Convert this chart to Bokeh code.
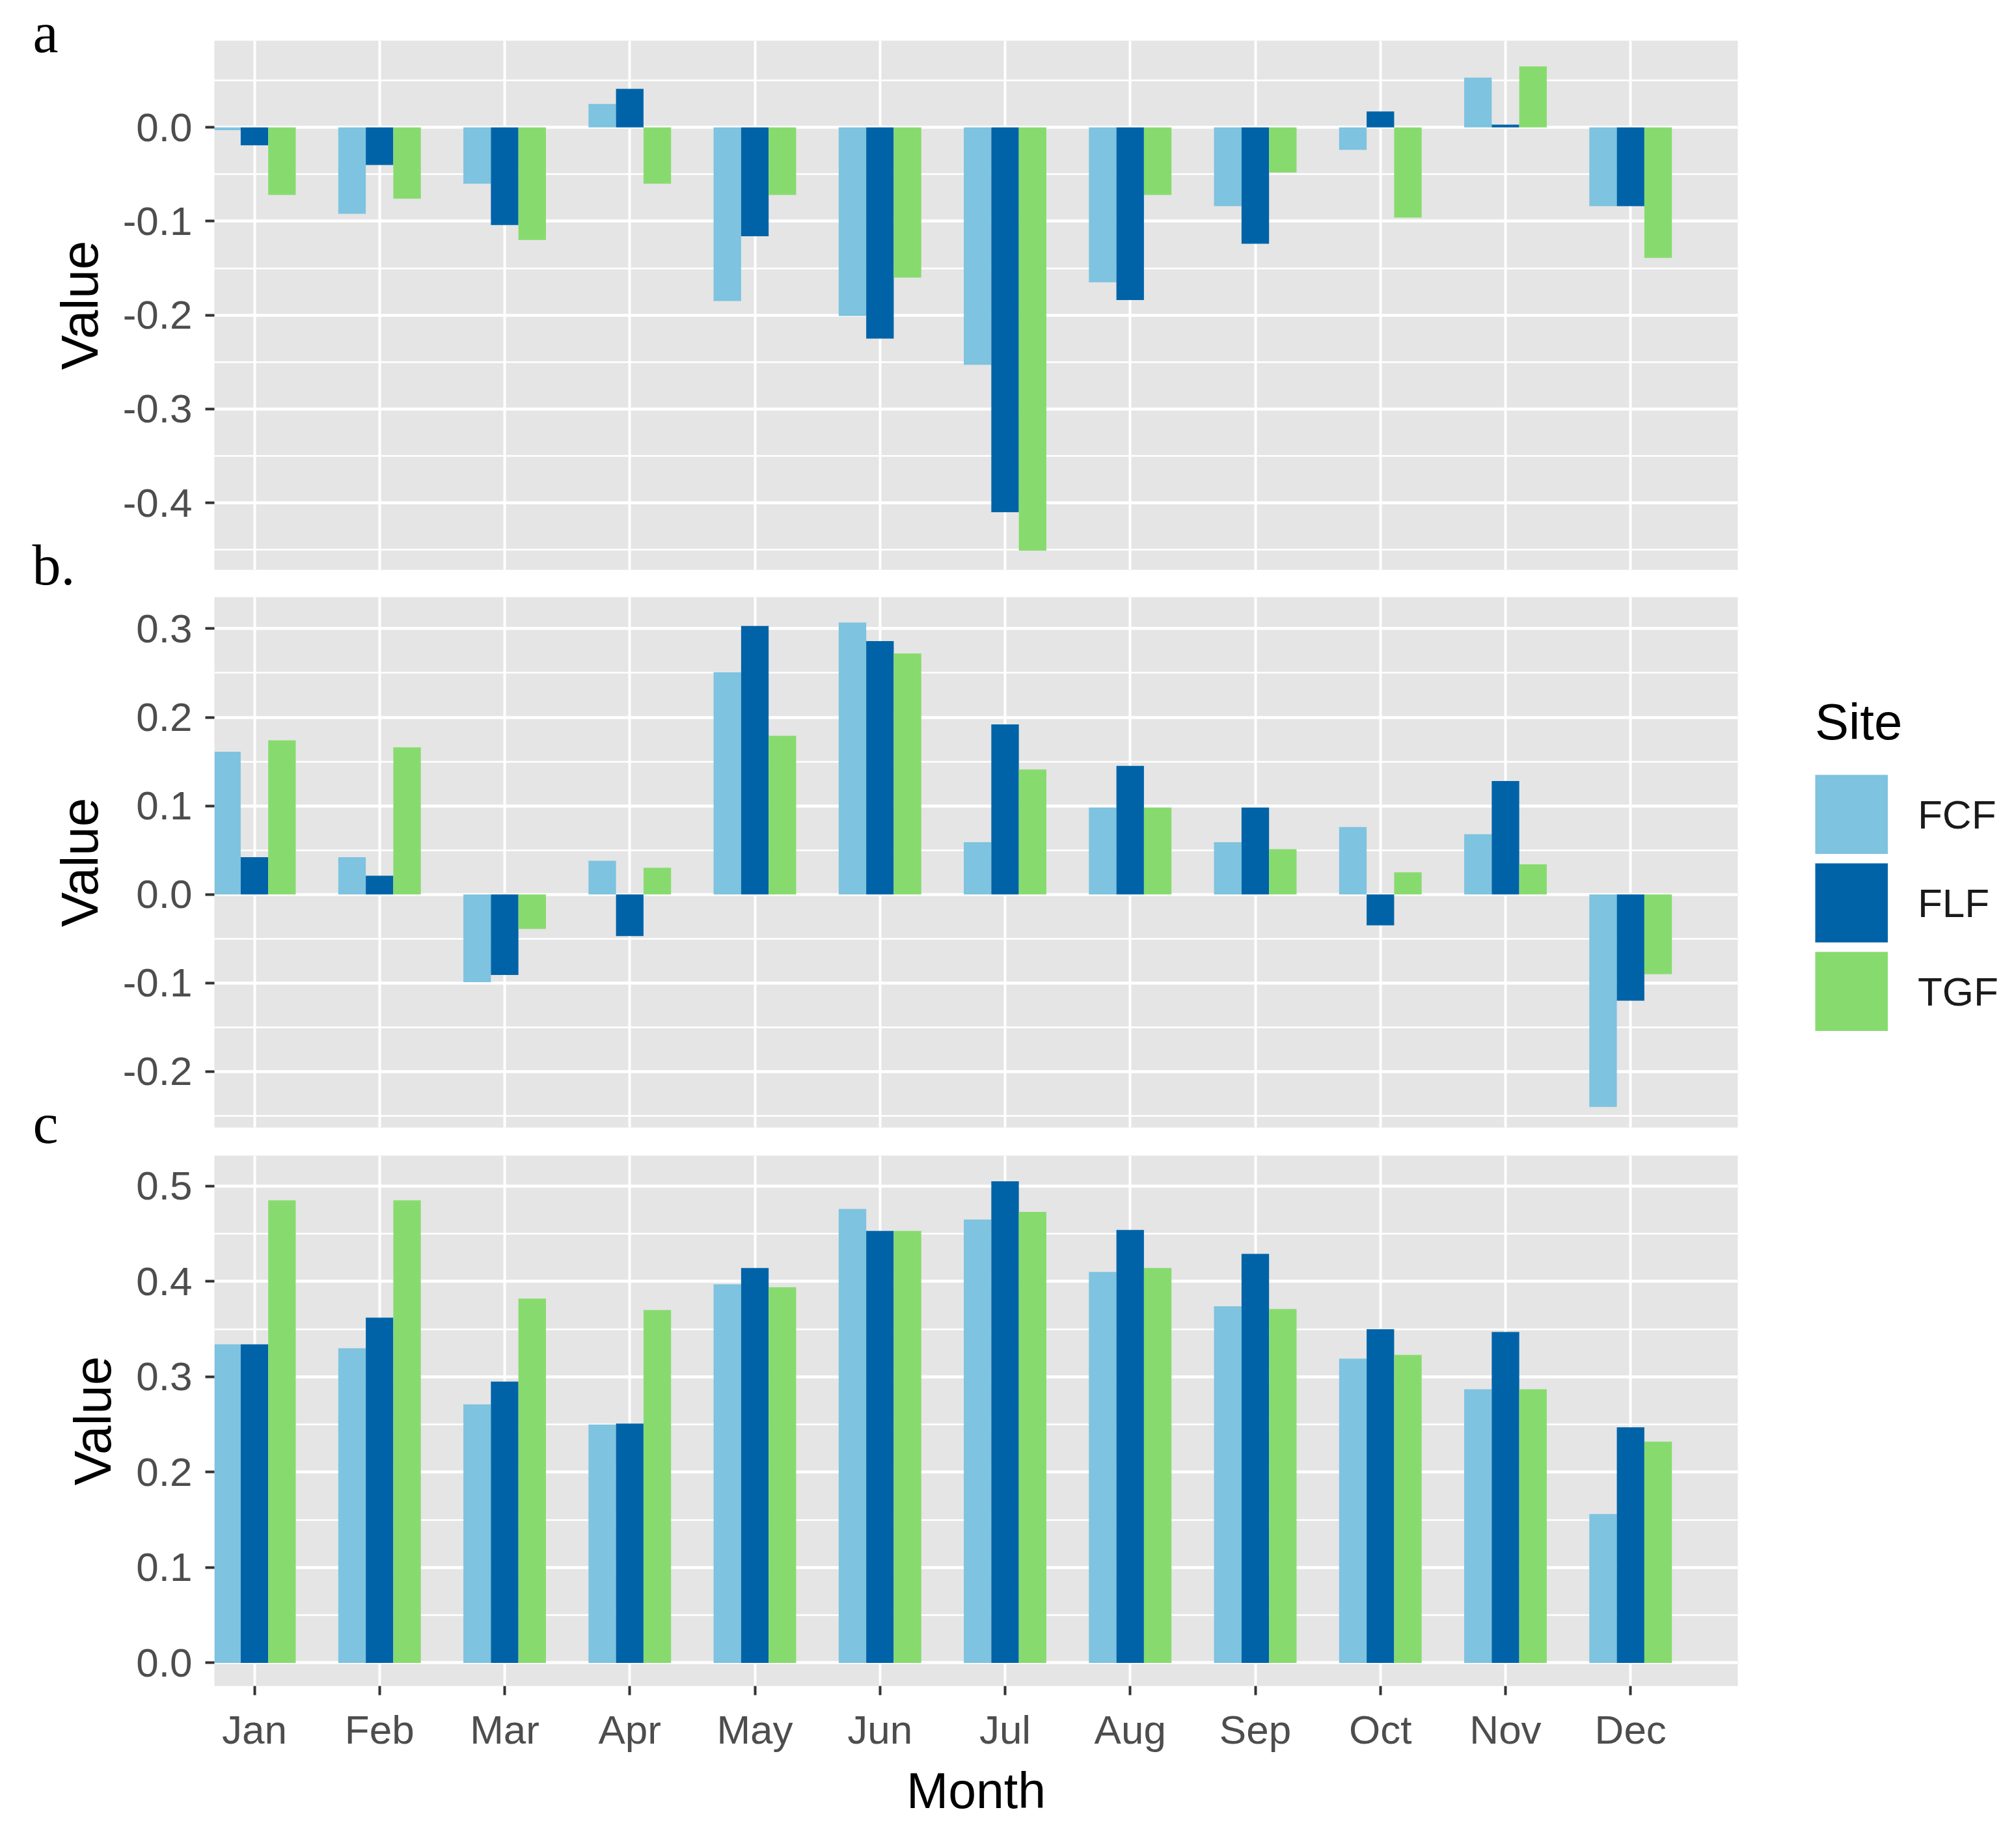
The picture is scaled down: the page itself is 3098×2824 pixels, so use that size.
from bokeh.plotting import figure
from bokeh.models import (ColumnDataSource, Range1d, FixedTicker, Grid, LinearAxis,
                          Legend, LegendItem, Title, PrintfTickFormatter)
from bokeh.layouts import column, row
from bokeh.transform import dodge
from bokeh.embed import file_html
from bokeh.resources import INLINE

# ---------------- data ----------------
months = ["Jan", "Feb", "Mar", "Apr", "May", "Jun", "Jul", "Aug", "Sep", "Oct", "Nov", "Dec"]
month_idx = list(range(12))
sites = ["FCF", "FLF", "TGF"]
site_colors = ["#7EC3DF", "#0063A8", "#87DB6E"]

a_fcf = [-0.003, -0.092, -0.060, 0.025, -0.185, -0.201, -0.253, -0.165, -0.084, -0.024, 0.053, -0.084]
a_flf = [-0.019, -0.040, -0.104, 0.041, -0.116, -0.225, -0.410, -0.184, -0.124, 0.017, 0.003, -0.084]
a_tgf = [-0.072, -0.076, -0.120, -0.060, -0.072, -0.160, -0.451, -0.072, -0.048, -0.096, 0.065, -0.139]

b_fcf = [0.161, 0.042, -0.099, 0.038, 0.251, 0.307, 0.059, 0.098, 0.059, 0.076, 0.068, -0.240]
b_flf = [0.042, 0.021, -0.091, -0.047, 0.303, 0.286, 0.192, 0.145, 0.098, -0.035, 0.128, -0.120]
b_tgf = [0.174, 0.166, -0.039, 0.030, 0.179, 0.272, 0.141, 0.098, 0.051, 0.025, 0.034, -0.090]

c_fcf = [0.334, 0.330, 0.271, 0.250, 0.397, 0.476, 0.465, 0.410, 0.374, 0.319, 0.287, 0.156]
c_flf = [0.334, 0.362, 0.295, 0.251, 0.414, 0.453, 0.505, 0.454, 0.429, 0.350, 0.347, 0.247]
c_tgf = [0.485, 0.485, 0.382, 0.370, 0.394, 0.453, 0.473, 0.414, 0.371, 0.323, 0.287, 0.232]

a_ticks = [0.0, -0.1, -0.2, -0.3, -0.4]
a_minor = [0.05, -0.05, -0.15, -0.25, -0.35, -0.45]
b_ticks = [0.3, 0.2, 0.1, 0.0, -0.1, -0.2]
b_minor = [0.25, 0.15, 0.05, -0.05, -0.15, -0.25]
c_ticks = [0.0, 0.1, 0.2, 0.3, 0.4, 0.5]
c_minor = [0.05, 0.15, 0.25, 0.35, 0.45]

panel_tags = ["a", "b.", "c"]

# ---------------- style ----------------
BG = "#E5E5E5"
SANS = "Liberation Sans"
SERIF = "Liberation Serif"
TICK_COL = "#4D4D4D"
X_RANGE = (-0.32, 11.857)
BAR_W = 0.22
OFFSETS = [-0.22, 0.0, 0.22]
LEFT = 329
FRAME_W = 2341
TOTAL_W = 3082
PB_W = 2678


def make_panel(fcf, flf, tgf, ticks, minor, yr, height, top, bottom, width, show_x):
    right = width - LEFT - FRAME_W
    p = figure(width=width, height=height,
               x_range=Range1d(*X_RANGE), y_range=Range1d(*yr),
               x_axis_type=None, y_axis_type=None,
               output_backend="svg", toolbar_location=None,
               min_border_left=LEFT, min_border_right=right,
               min_border_top=top, min_border_bottom=bottom)
    p.background_fill_color = BG
    p.border_fill_color = "white"
    p.outline_line_color = None

    yticker = FixedTicker(ticks=ticks, minor_ticks=minor)
    xticker = FixedTicker(ticks=month_idx)

    p.add_layout(Grid(dimension=1, ticker=yticker, grid_line_color="white", grid_line_width=4.5,
                      minor_grid_line_color="white", minor_grid_line_width=2.5))
    p.add_layout(Grid(dimension=0, ticker=xticker, grid_line_color="white", grid_line_width=4))

    yaxis = LinearAxis(ticker=yticker, formatter=PrintfTickFormatter(format="%.1f"),
                       axis_label="Value")
    yaxis.axis_line_color = None
    yaxis.major_tick_out = 14
    yaxis.major_tick_in = 0
    yaxis.major_tick_line_width = 4
    yaxis.major_tick_line_color = "#333333"
    yaxis.minor_tick_line_color = None
    yaxis.major_label_standoff = 20
    yaxis.major_label_text_font = SANS
    yaxis.major_label_text_font_size = "62px"
    yaxis.major_label_text_color = TICK_COL
    yaxis.axis_label_text_font = SANS
    yaxis.axis_label_text_font_size = "80px"
    yaxis.axis_label_text_font_style = "normal"
    yaxis.axis_label_text_color = "black"
    yaxis.axis_label_standoff = 19
    p.add_layout(yaxis, "left")

    if show_x:
        xaxis = LinearAxis(ticker=xticker, axis_label="Month",
                           major_label_overrides={i: m for i, m in zip(month_idx, months)})
        xaxis.axis_line_color = None
        xaxis.major_tick_out = 14
        xaxis.major_tick_in = 0
        xaxis.major_tick_line_width = 4
        xaxis.major_tick_line_color = "#333333"
        xaxis.minor_tick_line_color = None
        xaxis.major_label_standoff = 18
        xaxis.major_label_text_font = SANS
        xaxis.major_label_text_font_size = "62px"
        xaxis.major_label_text_color = TICK_COL
        xaxis.axis_label_text_font = SANS
        xaxis.axis_label_text_font_size = "77px"
        xaxis.axis_label_text_font_style = "normal"
        xaxis.axis_label_text_color = "black"
        xaxis.axis_label_standoff = 13
        p.add_layout(xaxis, "below")

    src = ColumnDataSource(dict(x=month_idx, FCF=fcf, FLF=flf, TGF=tgf))
    for site, off, col in zip(sites, OFFSETS, site_colors):
        p.vbar(x=dodge("x", off), top=site, bottom=0, width=BAR_W, source=src,
               fill_color=col, line_color=None)
    return p


def tag(p, text, place, offset, standoff, valign):
    t = Title(text=text, align="left", offset=offset, standoff=standoff,
              vertical_align=valign, text_font=SERIF, text_font_size="88px",
              text_font_style="normal", text_color="black")
    p.add_layout(t, place)


pa = make_panel(a_fcf, a_flf, a_tgf, a_ticks, a_minor, (-0.4714, 0.0924),
                height=917, top=62, bottom=42, width=TOTAL_W, show_x=False)
pb = make_panel(b_fcf, b_flf, b_tgf, b_ticks, b_minor, (-0.2633, 0.3356),
                height=858, top=0, bottom=43, width=PB_W, show_x=False)
pc = make_panel(c_fcf, c_flf, c_tgf, c_ticks, c_minor, (-0.0243, 0.532),
                height=1033, top=0, bottom=218, width=TOTAL_W, show_x=True)

tag(pa, panel_tags[0], "above", -279, -72, "bottom")
tag(pa, panel_tags[1], "below", -280, -112, "top")
tag(pb, panel_tags[2], "below", -279, -110, "top")

# ---------------- legend ----------------
pl = figure(width=TOTAL_W - PB_W, height=858, x_range=Range1d(-100, -99), y_range=Range1d(-1, 1),
            x_axis_type=None, y_axis_type=None, output_backend="svg", toolbar_location=None,
            min_border_left=0, min_border_top=0, min_border_right=0, min_border_bottom=43)
pl.outline_line_color = None
pl.border_fill_color = "white"
pl.background_fill_color = "white"
items = []
for site, col, vals in zip(sites, site_colors, [b_fcf, b_flf, b_tgf]):
    r = pl.line(x=month_idx, y=vals, line_width=122, line_color=col, line_cap="butt")
    items.append(LegendItem(label=site, renderers=[r]))
legend = Legend(items=items, location=(111, 148), title="Site",
                glyph_width=112, glyph_height=122, spacing=14, label_standoff=46,
                padding=0, margin=0, title_standoff=35,
                border_line_color=None, background_fill_alpha=0)
legend.title_text_font = SANS
legend.title_text_font_size = "78px"
legend.title_text_font_style = "normal"
legend.title_text_color = "black"
legend.label_text_font = SANS
legend.label_text_font_size = "62px"
legend.label_text_color = "#1A1A1A"
pl.add_layout(legend)

layout = column(pa, row(pb, pl), pc)
open("out.html", "w").write(file_html(layout, INLINE))
